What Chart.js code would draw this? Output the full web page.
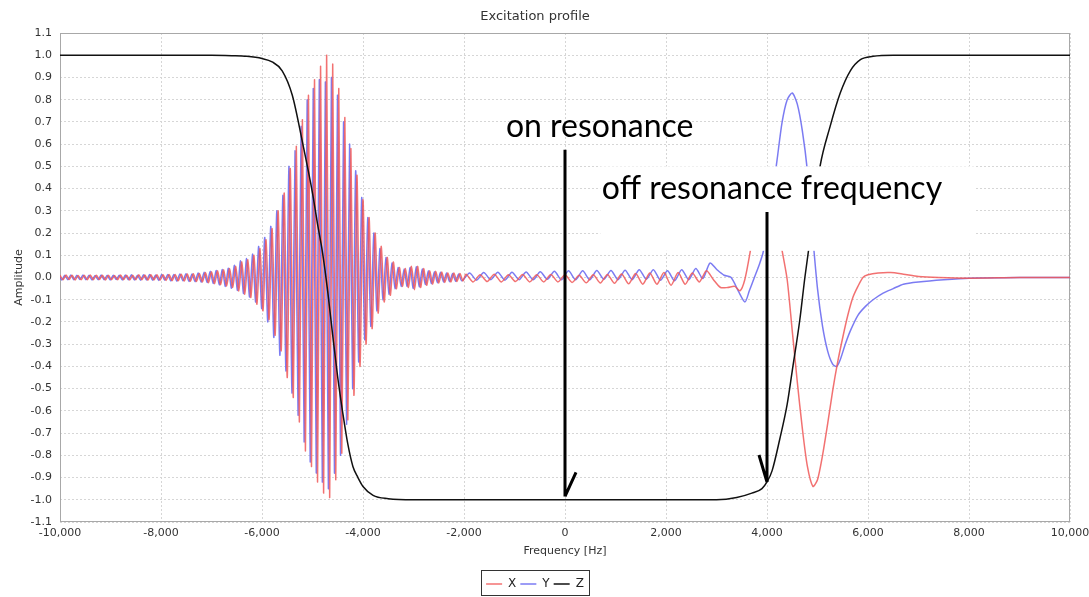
<!DOCTYPE html>
<html>
<head>
<meta charset="utf-8">
<script src="https://cdn.jsdelivr.net/npm/chart.js@4.4.1/dist/chart.umd.min.js"></script>
<style>
  html, body { margin: 0; padding: 0; background: #fff; overflow: hidden; }
</style>
</head>
<body>
<canvas id="excitation-chart" width="1089" height="597"></canvas>
<script>
// Z magnetisation (black)
const zFreq = [-10000, -7000, -6600, -6300, -6000, -5800, -5600, -5400, -5200, -5000,
  -4900, -4800, -4700, -4600, -4500, -4400, -4300, -4200, -4100, -4000, -3800, -3500,
  -3000, 3000, 3400, 3700, 3900, 4000, 4100, 4250, 4400, 4500, 4650, 4750, 4900, 5050,
  5250, 5450, 5650, 5850, 6100, 6500, 10000];
const zAmp = [1.0, 1.0, 0.998, 0.995, 0.985, 0.97, 0.93, 0.82, 0.61, 0.38,
  0.24, 0.11, -0.06, -0.26, -0.45, -0.61, -0.75, -0.85, -0.9, -0.94, -0.98, -0.995,
  -1.0, -1.0, -0.99, -0.97, -0.95, -0.92, -0.87, -0.73, -0.57, -0.42, -0.19, 0.0, 0.25, 0.5,
  0.68, 0.83, 0.93, 0.98, 0.995, 1.0, 1.0];

// burst region: one value per peak / trough, read every 60 Hz
const burstStepHz = 60;
const burstStartHzX = -10000;
const burstStartHzY = -10025;
const burstAmpX = [
  0.01, -0.01, 0.011, -0.009, 0.01, -0.011, 0.009, -0.01, 0.01, -0.01,
  0.011, -0.01, 0.01, -0.009, 0.01, -0.011, 0.01, -0.01, 0.009, -0.01,
  0.011, -0.01, 0.01, -0.011, 0.01, -0.01, 0.012, -0.01, 0.011, -0.012,
  0.012, -0.011, 0.012, -0.012,
  0.012, -0.013, 0.013, -0.014, 0.014, -0.015, 0.015, -0.016, 0.016, -0.017, 0.017, -0.018, 0.018,
  -0.02, 0.022, -0.024, 0.026, -0.028, 0.03, -0.033, 0.035, -0.038, 0.04,
  -0.045, 0.05, -0.06, 0.07, -0.075, 0.08, -0.09, 0.1, -0.12, 0.13,
  -0.15, 0.17, -0.19, 0.22, -0.26, 0.3, -0.33, 0.38, -0.45, 0.49,
  -0.54, 0.59, -0.65, 0.71, -0.78, 0.82, -0.85, 0.89, -0.92, 0.95,
  -0.97, 1.0, -0.99, 0.96, -0.91, 0.85, -0.79, 0.72, -0.64, 0.58,
  -0.53, 0.46, -0.4, 0.35, -0.3, 0.27, -0.23, 0.2, -0.16, 0.14,
  -0.11, 0.09, -0.08, 0.07, -0.05, 0.045, -0.04, 0.04, -0.045, 0.05,
  -0.055, 0.05, -0.045, 0.04, -0.035, 0.03, -0.03, 0.028, -0.025, 0.025,
  -0.022, 0.02, -0.02, 0.02, -0.018, 0.018, -0.016];
const burstAmpY = [
  0.009, -0.011, 0.01, -0.01, 0.011, -0.01, 0.01, -0.009, 0.011, -0.01,
  0.01, -0.011, 0.009, -0.01, 0.011, -0.01, 0.01, -0.011, 0.01, -0.009,
  0.01, -0.011, 0.011, -0.01, 0.012, -0.011, 0.01, -0.012, 0.012, -0.011,
  0.013, -0.012, 0.011, -0.013,
  0.013, -0.012, 0.014, -0.015, 0.013, -0.016, 0.016, -0.015, 0.017, -0.018, 0.016, -0.019, 0.02,
  -0.021, 0.024, -0.023, 0.028, -0.027, 0.032, -0.034, 0.036, -0.04, 0.042,
  -0.048, 0.055, -0.058, 0.075, -0.072, 0.085, -0.088, 0.105, -0.11, 0.14,
  -0.14, 0.18, -0.2, 0.23, -0.27, 0.3, -0.35, 0.37, -0.42, 0.5,
  -0.52, 0.57, -0.62, 0.68, -0.74, 0.8, -0.83, 0.85, -0.88, 0.89,
  -0.92, 0.88, -0.95, 0.9, -0.88, 0.82, -0.8, 0.7, -0.66, 0.6,
  -0.5, 0.48, -0.38, 0.36, -0.28, 0.27, -0.22, 0.2, -0.15, 0.13,
  -0.1, 0.09, -0.075, 0.065, -0.05, 0.045, -0.04, 0.038, -0.04, 0.045,
  -0.05, 0.048, -0.042, 0.038, -0.032, 0.03, -0.028, 0.026, -0.024, 0.024,
  -0.02, 0.02, -0.019, 0.018, -0.017, 0.016, -0.015];

// small ripple around resonance
const rippleFreqX = [-1960, -1820, -1680, -1540, -1400, -1260, -1120, -980, -840, -700,
  -560, -420, -280, -140, 0, 140, 280, 420, 560, 700, 840, 980, 1120, 1260, 1400,
  1540, 1680, 1820, 1960, 2100, 2240, 2380, 2520, 2660, 2800, 2940, 3080, 3220, 3360];
const rippleAmpX = [0.015, -0.02, 0.012, -0.018, 0.015, -0.02, 0.012, -0.018, 0.014, -0.02,
  0.012, -0.02, 0.014, -0.02, 0.012, -0.022, 0.01, -0.024, 0.012, -0.025, 0.014, -0.026,
  0.016, -0.028, 0.018, -0.03, 0.02, -0.03, 0.022, -0.035, 0.022, -0.03, 0.02, -0.02,
  0.03, -0.01, -0.045, -0.045, -0.04];
const rippleFreqY = [-1890, -1750, -1610, -1470, -1330, -1190, -1050, -910, -770, -630,
  -490, -350, -210, -70, 70, 210, 350, 490, 630, 770, 910, 1050, 1190, 1330, 1470,
  1610, 1750, 1890, 2030, 2170, 2310, 2450, 2590, 2730, 2870, 3010, 3150, 3290, 3430];
const rippleAmpY = [0.02, -0.012, 0.022, -0.01, 0.024, -0.012, 0.024, -0.01, 0.025, -0.01,
  0.026, -0.008, 0.028, -0.01, 0.03, -0.01, 0.03, -0.01, 0.032, -0.008, 0.032, -0.01,
  0.033, -0.01, 0.035, -0.008, 0.035, -0.012, 0.03, -0.015, 0.035, -0.01, 0.04, -0.005,
  0.065, 0.035, 0.01, 0.0, -0.06];

// off-resonance lobe and right tail
const tailFreqX = [3465, 3560, 3663, 3760, 3860, 3960, 4060, 4160, 4300, 4400,
  4500, 4600, 4700, 4800, 4910, 5000, 5100, 5200, 5300, 5400,
  5500, 5600, 5700, 5800, 5900, 6000, 6200, 6450, 6700, 7000, 7400, 8000, 9000, 10000];
const tailAmpX = [-0.06, -0.01, 0.11, 0.25, 0.36, 0.42, 0.4, 0.3, 0.12, -0.01,
  -0.24, -0.47, -0.68, -0.85, -0.94, -0.91, -0.8, -0.66, -0.51, -0.38,
  -0.27, -0.17, -0.09, -0.04, 0.0, 0.012, 0.02, 0.022, 0.015, 0.005, 0.0, -0.003, 0.0, 0.0];
const tailFreqY = [3564, 3650, 3750, 3850, 3920, 4000, 4100, 4200, 4300, 4400,
  4500, 4600, 4700, 4800, 4900, 5000, 5100, 5200, 5300, 5380,
  5450, 5550, 5650, 5800, 5950, 6100, 6300, 6500, 6700, 7000, 7500, 8000, 9000, 10000];
const tailAmpY = [-0.11, -0.06, 0.0, 0.06, 0.11, 0.2, 0.36, 0.53, 0.7, 0.8,
  0.83, 0.78, 0.66, 0.48, 0.2, -0.05, -0.22, -0.33, -0.39, -0.4,
  -0.37, -0.3, -0.24, -0.17, -0.13, -0.1, -0.07, -0.05, -0.03, -0.02, -0.01, -0.003, 0.0, 0.0];

// callouts pasted over the plot
const calloutLabels = ["on resonance", "off resonance frequency"];
const calloutLabelHz = [-1170, 730];
const calloutLabelAmp = [0.634, 0.355];
const calloutArrowHz = [0, 4000];
const calloutArrowFromAmp = [0.575, 0.295];
const calloutArrowToAmp = [-0.985, -0.92];
const maskHz = [700, 8120];
const maskAmp = [0.5, 0.12];

const toPoints = (freqs, amps) => amps.map((a, i) => ({ x: freqs[i], y: a }));
const burstFreqX = burstAmpX.map((_, i) => burstStartHzX + i * burstStepHz);
const burstFreqY = burstAmpY.map((_, i) => burstStartHzY + i * burstStepHz);

const xPoints = [
  ...toPoints(burstFreqX, burstAmpX),
  ...toPoints(rippleFreqX, rippleAmpX),
  ...toPoints(tailFreqX, tailAmpX),
];
const yPoints = [
  ...toPoints(burstFreqY, burstAmpY),
  ...toPoints(rippleFreqY, rippleAmpY),
  ...toPoints(tailFreqY, tailAmpY),
];
const zPoints = toPoints(zFreq, zAmp);

const plotFrame = {
  id: "plotFrame",
  beforeDatasetsDraw(chart) {
    const { ctx, chartArea } = chart;
    ctx.save();
    ctx.strokeStyle = "#a8a8a8";
    ctx.lineWidth = 1;
    ctx.strokeRect(
      Math.round(chartArea.left) + 0.5,
      Math.round(chartArea.top) + 0.5,
      Math.round(chartArea.width) - 1,
      Math.round(chartArea.height) - 1
    );
    ctx.restore();
  },
};

const callouts = {
  id: "callouts",
  afterDatasetsDraw(chart) {
    const { ctx } = chart;
    const sx = chart.scales.x;
    const sy = chart.scales.y;
    ctx.save();

    // white patch behind the second label
    const mx0 = sx.getPixelForValue(maskHz[0]);
    const mx1 = sx.getPixelForValue(maskHz[1]);
    const my0 = sy.getPixelForValue(maskAmp[0]);
    const my1 = sy.getPixelForValue(maskAmp[1]);
    ctx.fillStyle = "#ffffff";
    ctx.fillRect(mx0, my0, mx1 - mx0, my1 - my0);

    ctx.fillStyle = "#000000";
    ctx.font = "32px Lato, 'Open Sans', sans-serif";
    ctx.textBaseline = "alphabetic";
    ctx.textAlign = "left";
    calloutLabels.forEach((text, i) => {
      ctx.fillText(
        text,
        sx.getPixelForValue(calloutLabelHz[i]),
        sy.getPixelForValue(calloutLabelAmp[i])
      );
    });

    const barb = [
      [11, -24],
      [-8, -27],
    ];
    ctx.strokeStyle = "#000000";
    ctx.lineWidth = 3;
    calloutArrowHz.forEach((hz, i) => {
      const px = sx.getPixelForValue(hz);
      const top = sy.getPixelForValue(calloutArrowFromAmp[i]);
      const tip = sy.getPixelForValue(calloutArrowToAmp[i]);
      ctx.beginPath();
      ctx.moveTo(px, top);
      ctx.lineTo(px, tip);
      ctx.moveTo(px, tip);
      ctx.lineTo(px + barb[i][0], tip + barb[i][1]);
      ctx.stroke();
    });
    ctx.restore();
  },
};

const legendFrame = {
  id: "legendFrame",
  afterDraw(chart) {
    const boxes = chart.legend.legendHitBoxes;
    if (!boxes || !boxes.length) return;
    const left = Math.min(...boxes.map((b) => b.left)) - 5;
    const right = Math.max(...boxes.map((b) => b.left + b.width)) + 5;
    const top = Math.min(...boxes.map((b) => b.top)) - 8;
    const bottom = Math.max(...boxes.map((b) => b.top + b.height)) + 5;
    const { ctx } = chart;
    ctx.save();
    ctx.strokeStyle = "#333333";
    ctx.lineWidth = 1;
    ctx.strokeRect(
      Math.round(left) + 0.5,
      Math.round(top) + 0.5,
      Math.round(right - left),
      Math.round(bottom - top)
    );
    ctx.restore();
  },
};

Chart.defaults.font.family = "'DejaVu Sans', sans-serif";
Chart.defaults.color = "#333333";

new Chart(document.getElementById("excitation-chart").getContext("2d"), {
  type: "line",
  data: {
    datasets: [
      {
        label: "X",
        data: xPoints,
        borderColor: "rgba(240, 88, 88, 0.85)",
        backgroundColor: "rgba(240, 88, 88, 0.85)",
        borderWidth: 1.5,
        pointRadius: 0,
        tension: 0.25,
        order: 1,
      },
      {
        label: "Y",
        data: yPoints,
        borderColor: "rgba(100, 100, 240, 0.85)",
        backgroundColor: "rgba(100, 100, 240, 0.85)",
        borderWidth: 1.5,
        pointRadius: 0,
        tension: 0.25,
        order: 2,
      },
      {
        label: "Z",
        data: zPoints,
        borderColor: "#111111",
        backgroundColor: "#111111",
        borderWidth: 1.5,
        pointRadius: 0,
        cubicInterpolationMode: "monotone",
        order: 0,
      },
    ],
  },
  options: {
    responsive: false,
    animation: false,
    layout: {
      padding: { left: 0, right: 19, top: 0, bottom: -3 },
    },
    plugins: {
      title: {
        display: true,
        text: "Excitation profile",
        font: { size: 13, weight: "normal" },
        color: "#333333",
        padding: { top: 9.2, bottom: 8.2 },
      },
      legend: {
        display: true,
        position: "bottom",
        labels: {
          usePointStyle: true,
          pointStyle: "line",
          pointStyleWidth: 16,
          padding: 4,
          font: { size: 12 },
          color: "#222222",
          sort: (a, b) => a.datasetIndex - b.datasetIndex,
        },
      },
      tooltip: { enabled: false },
    },
    scales: {
      x: {
        type: "linear",
        min: -10000,
        max: 10000,
        afterFit: (scale) => {
          scale.paddingRight = 0;
          scale.height = 52;
        },
        ticks: {
          stepSize: 2000,
          padding: 5,
          font: { size: 11 },
          color: "#333333",
          maxRotation: 0,
          callback: (v) => v.toLocaleString("en-US"),
        },
        grid: { color: "#d6d6d6", drawTicks: false },
        border: { display: false, dash: [2, 2] },
        title: {
          display: true,
          text: "Frequency [Hz]",
          font: { size: 11 },
          color: "#333333",
          padding: { top: 0, bottom: 16.4 },
        },
      },
      y: {
        min: -1.1,
        max: 1.1,
        afterFit: (scale) => {
          scale.width = 60;
        },
        ticks: {
          stepSize: 0.1,
          autoSkip: false,
          padding: 8,
          font: { size: 11 },
          color: "#333333",
          callback: (v) => (Math.abs(v) < 1e-9 ? 0 : v).toFixed(1),
        },
        grid: { color: "#d6d6d6", drawTicks: false },
        border: { display: false, dash: [2, 2] },
        title: {
          display: true,
          text: "Amplitude",
          font: { size: 11 },
          color: "#333333",
          padding: { top: 12.5, bottom: 0 },
        },
      },
    },
  },
  plugins: [plotFrame, callouts, legendFrame],
});
</script>
</body>
</html>
